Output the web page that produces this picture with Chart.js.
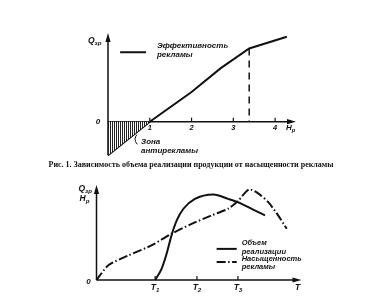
<!DOCTYPE html>
<html>
<head>
<meta charset="utf-8">
<script src="https://cdn.jsdelivr.net/npm/chart.js@4/dist/chart.umd.min.js"></script>
<style>
  html, body { margin: 0; padding: 0; background: #fff; width: 382px; height: 296px; overflow: hidden; }
  #top { position: absolute; left: 0; top: 0; }
  #bottom { position: absolute; left: 0; top: 170px; }
  #caption { position: absolute; left: 0; top: 160px; width: 382px; text-align: center;
             font: bold 8px 'Liberation Serif', 'Times New Roman', serif; line-height: 10px; color: #111;
             will-change: transform; }
</style>
</head>
<body>
<canvas id="top" width="382" height="160"></canvas>
<div id="caption">Рис. 1. Зависимость объема реализации продукции от насыщенности рекламы</div>
<canvas id="bottom" width="382" height="126"></canvas>
<script>
// ---- Fig. 1: sales volume vs advertising saturation ----
const effX = [0, 1, 2, 2.7, 3.38, 4.28];          // Н_р
const effY = [-0.8, 0, 0.71, 1.28, 1.75, 2.03];   // Q_зр
const antiX = [0, 1];                              // anti-advertising zone
const antiY = [-0.8, 0];
const saturationX = 3.38;                          // saturation point
const satTicks = [1, 2, 3, 4];
const satTickLabels = ['1', '2', '3', '4'];

// ---- Time chart: sales volume and advertising saturation ----
const salesX = [1.43, 1.59, 1.71, 1.83, 1.96, 2.12, 2.40, 2.85, 3.21, 3.54, 3.82, 4.11];
const salesY = [0, 0.28, 0.64, 1.09, 1.46, 1.74, 1.98, 2.09, 1.98, 1.86, 1.72, 1.58];
const adX = [0, 0.29, 0.78, 1.35, 1.83, 2.32, 2.81, 3.21, 3.46, 3.72, 3.95, 4.19, 4.43, 4.64];
const adY = [0, 0.36, 0.60, 0.85, 1.13, 1.37, 1.58, 1.74, 1.94, 2.21, 2.11, 1.90, 1.58, 1.25];
const timeTicks = [1.43, 2.45, 3.45];
const timeTickSubs = ['1', '2', '3'];

const INK = '#111';
const LABEL_FONT = "'Liberation Sans', Arial, sans-serif";

function pts(xs, ys) { return xs.map((x, i) => ({ x, y: ys[i] })); }

function hatchPattern() {
  const c = document.createElement('canvas');
  c.width = 2; c.height = 4;
  const g = c.getContext('2d');
  g.fillStyle = '#fff'; g.fillRect(0, 0, 2, 4);
  g.fillStyle = '#222'; g.fillRect(0, 0, 1, 4);
  return g.createPattern(c, 'repeat');
}

function arrowUp(ctx, x, y) {
  ctx.beginPath(); ctx.moveTo(x, y); ctx.lineTo(x - 2.6, y + 9); ctx.lineTo(x + 2.6, y + 9); ctx.closePath(); ctx.fill();
}
function arrowRight(ctx, x, y) {
  ctx.beginPath(); ctx.moveTo(x, y); ctx.lineTo(x - 9, y - 2.6); ctx.lineTo(x - 9, y + 2.6); ctx.closePath(); ctx.fill();
}
function font(size) { return `italic bold ${size}px ${LABEL_FONT}`; }

// text with a subscript; align 'left' or 'center' about x
function subText(ctx, main, sub, x, y, size, align) {
  ctx.font = font(size);
  const w1 = ctx.measureText(main).width;
  ctx.font = font(size * 0.72);
  const w2 = ctx.measureText(sub).width;
  let left = align === 'center' ? x - (w1 + w2) / 2 : x;
  ctx.textAlign = 'left'; ctx.textBaseline = 'middle';
  ctx.font = font(size); ctx.fillText(main, left, y);
  ctx.font = font(size * 0.72); ctx.fillText(sub, left + w1, y + size * 0.3);
}
function text(ctx, s, x, y, size, align) {
  ctx.font = font(size); ctx.textAlign = align || 'left'; ctx.textBaseline = 'middle';
  ctx.fillText(s, x, y);
}

// axes, arrows, ticks and annotations of Fig. 1
const topAxes = {
  id: 'topAxes',
  beforeDatasetsDraw(chart) {
    const { ctx, scales: { x, y } } = chart;
    const x0 = x.getPixelForValue(0), y0 = y.getPixelForValue(0);
    ctx.save();
    ctx.strokeStyle = INK; ctx.fillStyle = INK; ctx.lineWidth = 1.5;
    ctx.beginPath();
    ctx.moveTo(x0, y.getPixelForValue(antiY[0])); ctx.lineTo(x0, y.top + 4);
    ctx.moveTo(x0, y0); ctx.lineTo(x.right - 4, y0);
    ctx.stroke();
    arrowUp(ctx, x0, y.top);
    arrowRight(ctx, x.right, y0);
    ctx.lineWidth = 1.2;
    satTicks.forEach((v, i) => {
      const px = x.getPixelForValue(v);
      ctx.beginPath(); ctx.moveTo(px, y0); ctx.lineTo(px, y0 - 4); ctx.stroke();
      text(ctx, satTickLabels[i], px, y0 + 6, 7.5, 'center');
    });
    text(ctx, '0', x0 - 10, y0, 8, 'center');
    subText(ctx, 'Q', 'зр', x0 - 20, y.top + 8, 8.5, 'left');
    subText(ctx, 'Н', 'р', x.right - 10, y0 + 6, 8, 'left');
    ctx.restore();
  },
  afterDatasetsDraw(chart) {
    const { ctx, scales: { x, y } } = chart;
    ctx.save();
    ctx.strokeStyle = INK; ctx.fillStyle = INK;
    // legend entry
    ctx.lineWidth = 2;
    ctx.beginPath();
    ctx.moveTo(x.getPixelForValue(0.29), y.getPixelForValue(1.66));
    ctx.lineTo(x.getPixelForValue(0.91), y.getPixelForValue(1.66));
    ctx.stroke();
    text(ctx, 'Эффективность', x.getPixelForValue(1.17), y.getPixelForValue(1.82), 8);
    text(ctx, 'рекламы', x.getPixelForValue(1.17), y.getPixelForValue(1.61), 8);
    // anti-advertising zone label with leader
    ctx.lineWidth = 1;
    ctx.beginPath();
    ctx.moveTo(x.getPixelForValue(0.69), y.getPixelForValue(-0.31));
    ctx.quadraticCurveTo(x.getPixelForValue(0.6), y.getPixelForValue(-0.42),
                         x.getPixelForValue(0.7), y.getPixelForValue(-0.54));
    ctx.stroke();
    text(ctx, 'Зона', x.getPixelForValue(0.79), y.getPixelForValue(-0.49), 8);
    text(ctx, 'антирекламы', x.getPixelForValue(0.79), y.getPixelForValue(-0.69), 8);
    ctx.restore();
  }
};

// axes, arrows, ticks and legend of the time chart
const bottomAxes = {
  id: 'bottomAxes',
  beforeDatasetsDraw(chart) {
    const { ctx, scales: { x, y } } = chart;
    const x0 = x.getPixelForValue(0), y0 = y.getPixelForValue(0);
    ctx.save();
    ctx.strokeStyle = INK; ctx.fillStyle = INK; ctx.lineWidth = 1.5;
    ctx.beginPath();
    ctx.moveTo(x0, y0); ctx.lineTo(x0, y.top + 4);
    ctx.moveTo(x0, y0); ctx.lineTo(x.right - 4, y0);
    ctx.stroke();
    arrowUp(ctx, x0, y.top);
    arrowRight(ctx, x.right, y0);
    ctx.lineWidth = 1.2;
    timeTicks.forEach((v, i) => {
      const px = x.getPixelForValue(v);
      ctx.beginPath(); ctx.moveTo(px, y0); ctx.lineTo(px, y0 - 4); ctx.stroke();
      subText(ctx, 'T', timeTickSubs[i], px, y0 + 8, 8.5, 'center');
    });
    text(ctx, '0', x0 - 8, y0 + 2, 8, 'center');
    subText(ctx, 'Q', 'зр', x0 - 18, y.getPixelForValue(2.24), 8.5, 'left');
    subText(ctx, 'Н', 'р', x0 - 17, y.getPixelForValue(1.98), 8.5, 'left');
    text(ctx, 'T', x.right - 4, y0 + 8, 8.5, 'center');
    ctx.restore();
  },
  afterDatasetsDraw(chart) {
    const { ctx, scales: { x, y } } = chart;
    ctx.save();
    ctx.strokeStyle = INK; ctx.fillStyle = INK; ctx.lineWidth = 2;
    const lx1 = x.getPixelForValue(2.93), lx2 = x.getPixelForValue(3.42);
    ctx.beginPath();
    ctx.moveTo(lx1, y.getPixelForValue(0.76)); ctx.lineTo(lx2, y.getPixelForValue(0.76));
    ctx.stroke();
    ctx.setLineDash([9, 2.5, 1.5, 2.5]);
    ctx.beginPath();
    ctx.moveTo(lx1, y.getPixelForValue(0.44)); ctx.lineTo(lx2, y.getPixelForValue(0.44));
    ctx.stroke();
    ctx.setLineDash([]);
    const tx = x.getPixelForValue(3.54);
    text(ctx, 'Объем', tx, y.getPixelForValue(0.90), 7.5);
    text(ctx, 'реализации', tx, y.getPixelForValue(0.69), 7.5);
    text(ctx, 'Насыщенность', tx, y.getPixelForValue(0.51), 7.5);
    text(ctx, 'рекламы', tx, y.getPixelForValue(0.31), 7.5);
    ctx.restore();
  }
};

const baseOptions = {
  responsive: false,
  animation: false,
  devicePixelRatio: 1,
  events: [],
  plugins: { legend: { display: false }, tooltip: { enabled: false } },
  elements: { point: { radius: 0 } }
};

new Chart(document.getElementById('top'), {
  type: 'line',
  data: {
    datasets: [
      { data: pts(antiX, antiY), borderWidth: 0, borderColor: 'rgba(0,0,0,0)',
        backgroundColor: hatchPattern(), fill: { value: 0 }, clip: false },
      { data: pts(effX, effY), borderColor: INK, borderWidth: 2, fill: false, tension: 0, clip: false },
      { data: [{ x: saturationX, y: effY[4] }, { x: saturationX, y: 0 }], borderColor: INK,
        borderWidth: 1.5, borderDash: [7, 5], fill: false, clip: false }
    ]
  },
  options: Object.assign({}, baseOptions, {
    layout: { padding: { left: 108, right: 86, top: 33, bottom: 4 } },
    scales: {
      x: { type: 'linear', min: 0, max: 4.5, display: false },
      y: { type: 'linear', min: -0.82, max: 2.12, display: false }
    }
  }),
  plugins: [topAxes]
});

new Chart(document.getElementById('bottom'), {
  type: 'line',
  data: {
    datasets: [
      { label: 'Объем реализации', data: pts(salesX, salesY), borderColor: INK, borderWidth: 2,
        fill: false, cubicInterpolationMode: 'monotone', clip: false },
      { label: 'Насыщенность рекламы', data: pts(adX, adY), borderColor: INK, borderWidth: 2,
        borderDash: [9, 2.5, 1.5, 2.5], fill: false, tension: 0.25, clip: false }
    ]
  },
  options: Object.assign({}, baseOptions, {
    layout: { padding: { left: 96.5, right: 80.5, top: 15, bottom: 16 } },
    scales: {
      x: { type: 'linear', min: 0, max: 5.0, display: false },
      y: { type: 'linear', min: 0, max: 2.32, display: false }
    }
  }),
  plugins: [bottomAxes]
});
</script>
</body>
</html>
